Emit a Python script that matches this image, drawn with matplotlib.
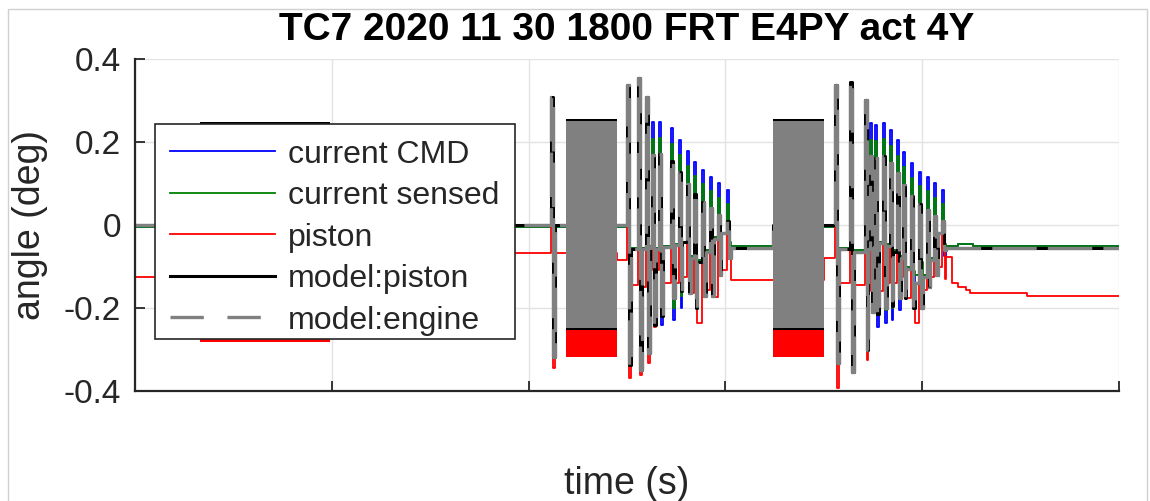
import numpy as np
import matplotlib
matplotlib.use('Agg')
import matplotlib.pyplot as plt
from matplotlib.lines import Line2D
from matplotlib.patches import Rectangle

plt.rcParams['font.family'] = ['Liberation Sans', 'DejaVu Sans']
plt.rcParams['lines.scale_dashes'] = False

############### data (time in s, angle in deg)
# spike events shared by all traces: two big/decaying groups
spike_t = [2.114, 2.500, 2.556, 2.597,
           2.627, 2.663, 2.724, 2.764, 2.805, 2.840, 2.881, 2.922, 2.962, 3.008,
           3.557, 3.633, 3.709,
           3.735, 3.760, 3.801, 3.836, 3.872, 3.902, 3.943, 3.984, 4.024, 4.060, 4.101]

cmd_hi = [0.25, 0.25, 0.25, 0.25,
          0.248, 0.248, 0.234, 0.205, 0.178, 0.152, 0.133, 0.116, 0.101, 0.084,
          0.25, 0.25, 0.25,
          0.246, 0.241, 0.246, 0.229, 0.205, 0.176, 0.149, 0.128, 0.116, 0.101, 0.084]
cmd_lo = [-0.25, -0.25, -0.25, -0.25,
          -0.23, -0.24, -0.23, -0.2, -0.15, -0.14, -0.12, -0.11, -0.09, -0.07,
          -0.25, -0.25, -0.25,
          -0.21, -0.245, -0.236, -0.229, -0.205, -0.16, -0.14, -0.12, -0.1, -0.09, -0.075]

sen_hi = [0.24, 0.24, 0.24, 0.24,
          0.208, 0.21, 0.195, 0.168, 0.142, 0.117, 0.098, 0.081, 0.066, 0.05,
          0.24, 0.24, 0.24,
          0.206, 0.202, 0.207, 0.19, 0.167, 0.139, 0.113, 0.093, 0.081, 0.066, 0.05]
sen_lo = [-0.24, -0.24, -0.24, -0.24,
          -0.2, -0.21, -0.2, -0.17, -0.12, -0.11, -0.09, -0.08, -0.06, -0.04,
          -0.24, -0.24, -0.24,
          -0.19, -0.215, -0.206, -0.2, -0.175, -0.13, -0.11, -0.09, -0.07, -0.06, -0.045]

pis_hi = [0.2, 0.2, 0.2, 0.2,
          0.14, 0.14, 0.125, 0.1, 0.07, 0.045, 0.025, 0.01, -0.005, -0.02,
          0.2, 0.2, 0.2,
          0.136, 0.13, 0.136, 0.12, 0.095, 0.066, 0.04, 0.02, 0.006, -0.01, -0.02]
pis_lo = [-0.345, -0.369, -0.361, -0.333,
          -0.245, -0.21, -0.165, -0.15, -0.155, -0.19, -0.16, -0.16, -0.11, -0.07,
          -0.393, -0.35, -0.325,
          -0.2, -0.205, -0.19, -0.185, -0.165, -0.165, -0.19, -0.19, -0.14, -0.11, -0.05]

mod_hi = [0.308, 0.337, 0.354, 0.308,
          0.168, 0.17, 0.155, 0.128, 0.1, 0.075, 0.055, 0.04, 0.025, 0.01,
          0.337, 0.345, 0.301,
          0.166, 0.161, 0.166, 0.149, 0.125, 0.096, 0.07, 0.05, 0.036, 0.022, 0.01]
mod_lo = [-0.318, -0.337, -0.349, -0.308,
          -0.24, -0.22, -0.175, -0.16, -0.165, -0.2, -0.17, -0.17, -0.12, -0.08,
          -0.333, -0.354, -0.30,
          -0.21, -0.215, -0.2, -0.195, -0.175, -0.175, -0.2, -0.2, -0.15, -0.12, -0.06]

# level held after each spike
sen_after = [-0.004, -0.055, -0.055, -0.05,
             -0.055, -0.05, -0.045, -0.04, -0.075, -0.085, -0.06, -0.03, -0.02, -0.05,
             -0.055, -0.06, -0.055,
             -0.05, -0.04, -0.045, -0.06, -0.075, -0.1, -0.12, -0.12, -0.08, -0.02, -0.05]
pis_after = [-0.067, -0.145, -0.15, -0.108,
             -0.108, -0.14, -0.14, -0.125, -0.165, -0.236, -0.157, -0.173, -0.108, -0.072,
             -0.14, -0.145, -0.16,
             -0.18, -0.16, -0.14, -0.14, -0.125, -0.175, -0.236, -0.157, -0.125, -0.101, -0.077]
mod_after = [0.0, -0.058, -0.058, -0.054,
             -0.058, -0.054, -0.049, -0.042, -0.08, -0.09, -0.064, -0.034, -0.02, -0.055,
             -0.058, -0.064, -0.058,
             -0.054, -0.044, -0.05, -0.064, -0.08, -0.105, -0.14, -0.125, -0.085, -0.02, -0.055]

# level changes that are not spikes
sen_step_t = [3.242, 4.182, 4.258]
sen_step_y = [-0.004, -0.045, -0.05]
pis_step_t = [1.0, 1.5, 2.449, 3.03, 3.501, 4.118, 4.151, 4.182, 4.223, 4.243, 4.533]
pis_step_y = [-0.09, -0.067, -0.084, -0.133, -0.08, -0.13, -0.14, -0.15, -0.157, -0.164, -0.171]
mod_step_t = [3.242]
mod_step_y = [0.0]

# fast oscillation bursts (envelope of each trace per burst)
burst_t0 = [0.33, 2.19, 3.242]
burst_t1 = [0.99, 2.449, 3.501]
cmd_burst = ([-0.25, -0.25, -0.25], [0.24, 0.25, 0.25])
sen_burst = ([-0.24, -0.24, -0.24], [0.235, 0.24, 0.24])
pis_burst = ([-0.282, -0.318, -0.318], [0.18, 0.18, 0.18])
mod_burst = ([-0.253, -0.253, -0.253], [0.247, 0.256, 0.256])
eng_burst = ([-0.249, -0.249, -0.249], [0.243, 0.251, 0.251])


def trace(start, hi, lo, after, steps_t, steps_y, w=0.009):
    pts = [(0.0, start)]
    for s, h, l, a in zip(spike_t, hi, lo, after):
        pts += [(s, h), (s + w, l), (s + 2 * w, a)]
    pts += list(zip(steps_t, steps_y))
    pts.sort(key=lambda p: p[0])
    pts.append((5.0, pts[-1][1]))
    return np.array(pts).T


def bursts(ax, env, col, z):
    for t0, t1, lo, hi in zip(burst_t0, burst_t1, env[0], env[1]):
        ax.fill_between([t0, t1], lo, hi, color=col, lw=0, zorder=z)


fig = plt.figure(figsize=(11.5, 5.01), dpi=100)
ax = fig.add_axes([135 / 1150, 1 - 391 / 501, 984 / 1150, 332 / 501])

specs = [
    ('current CMD', 'b', 1.3, 2.0, trace(-0.004, cmd_hi, cmd_lo, sen_after, sen_step_t, sen_step_y), cmd_burst),
    ('current sensed', '#008000', 1.3, 2.1, trace(-0.004, sen_hi, sen_lo, sen_after, sen_step_t, sen_step_y), sen_burst),
    ('piston', 'r', 1.3, 2.2, trace(-0.125, pis_hi, pis_lo, pis_after, pis_step_t, pis_step_y), pis_burst),
    ('model:piston', 'k', 2.2, 2.3, trace(0.0, mod_hi, mod_lo, mod_after, mod_step_t, mod_step_y), mod_burst),
]
handles = []
for label, col, lw, z, (t, y), env in specs:
    ln, = ax.plot(t, y, drawstyle='steps-post', color=col, lw=lw, zorder=z, label=label)
    handles.append(ln)
    bursts(ax, env, col, z)

# model:engine drawn dashed on top
t, y = trace(0.0, mod_hi, mod_lo, mod_after, mod_step_t, mod_step_y)
ax.plot(t, y, drawstyle='steps-post', color='#808080', lw=2.4, dashes=(32, 8), zorder=2.4)
bursts(ax, eng_burst, '#808080', 2.4)
handles.append(Line2D([], [], color='#808080', lw=2.4, dashes=(24, 17), label='model:engine'))

############### axes styling
ax.set_xlim(0, 5)
ax.set_ylim(-0.4, 0.4)
ax.set_xticks([0, 1, 2, 3, 4, 5])
ax.set_xticklabels([])
ax.set_yticks([-0.4, -0.2, 0, 0.2, 0.4])
ax.set_yticklabels(['-0.4', '-0.2', '0', '0.2', '0.4'])
ax.grid(True, color='#e3e3e3', lw=1.0)
ax.set_axisbelow(True)
for s in ['top', 'right']:
    ax.spines[s].set_visible(False)
for s in ['left', 'bottom']:
    ax.spines[s].set_color('#262626')
    ax.spines[s].set_linewidth(1.6)
ax.tick_params(direction='in', length=7, width=1.3, colors='#262626', labelsize=24, pad=10)

ax.set_xlabel('time (s)', fontsize=27, color='#262626')
ax.xaxis.set_label_coords(0.5, -0.226)
ax.set_ylabel('angle (deg)', fontsize=27, color='#262626')
ax.yaxis.set_label_coords(-0.088, 0.5)

fig.text(627 / 1150, 1 - 30 / 501, 'TC7 2020 11 30 1800 FRT E4PY act 4Y',
         ha='center', va='center', fontsize=28, fontweight='bold', color='black')

# legend box drawn separately so it keeps its own padding
ax.add_patch(Rectangle((0.0203, 0.1566), 0.3659, 0.6476, transform=ax.transAxes,
                       facecolor='white', edgecolor='#262626', lw=1.2, zorder=9,
                       clip_on=False))
leg = ax.legend(handles=handles, loc='upper left', bbox_to_anchor=(0.0356, 0.757),
                borderaxespad=0, borderpad=0, fontsize=23, frameon=False,
                handlelength=3.3, handletextpad=0.4, labelspacing=0.36)
leg.set_zorder(10)
for txt in leg.get_texts():
    txt.set_color('#262626')

fig.patches.append(Rectangle((8 / 1150, -0.1), 1139 / 1150, 1.1 - 9 / 501,
                             transform=fig.transFigure, fill=False,
                             edgecolor='#d0d0d0', lw=1))

fig.savefig('out.png', dpi=100)
